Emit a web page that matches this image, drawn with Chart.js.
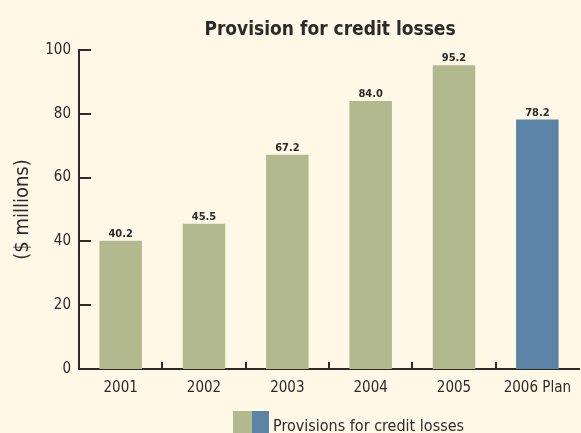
<!DOCTYPE html>
<html>
<head>
<meta charset="utf-8">
<script src="https://cdn.jsdelivr.net/npm/chart.js@4.4.1/dist/chart.umd.min.js"></script>
<style>
  html, body { margin: 0; padding: 0; background: #fff8e6; }
  #wrap { width: 581px; height: 433px; }
</style>
</head>
<body>
<div id="wrap"><canvas id="c" width="581" height="433"></canvas></div>
<script>
// Provision for credit losses, $ millions
const years = ['2001', '2002', '2003', '2004', '2005', '2006 Plan'];
const provisions = [40.2, 45.5, 67.2, 84.0, 95.2, 78.2];
const valueLabels = ['40.2', '45.5', '67.2', '84.0', '95.2', '78.2'];
const yTickValues = [0, 20, 40, 60, 80, 100];
const chartTitle = 'Provision for credit losses';
const legendText = 'Provisions for credit losses';

const ACTUAL = '#b2b98f';
const PLAN = '#5b83a5';
const INK = '#2b2b2b';
const FONT = '"Liberation Sans Narrow", "DejaVu Sans Condensed", "Arial Narrow", sans-serif';

const barColors = years.map((y, i) => (i === years.length - 1 ? PLAN : ACTUAL));

// Title over the plot area, inward tick marks, value labels and the two-colour legend
const decorations = {
  id: 'decorations',
  afterDraw(chart) {
    const ctx = chart.ctx;
    const area = chart.chartArea;
    const x = chart.scales.x;
    const y = chart.scales.y;
    ctx.save();

    // title, centred on the plot area
    ctx.fillStyle = INK;
    ctx.font = 'bold 19px ' + FONT;
    ctx.textAlign = 'center';
    ctx.textBaseline = 'alphabetic';
    ctx.fillText(chartTitle, (area.left + area.right) / 2 + 1, 35);

    ctx.strokeStyle = INK;
    ctx.lineWidth = 2;
    // y ticks pointing into the plot
    yTickValues.forEach(v => {
      const py = Math.round(y.getPixelForValue(v));
      ctx.beginPath();
      ctx.moveTo(x.left - 1, py);
      ctx.lineTo(x.left + 12, py);
      ctx.stroke();
    });
    // x ticks between categories, pointing up
    const base = y.getPixelForValue(0);
    for (let i = 0; i < years.length - 1; i++) {
      const px = Math.round((x.getPixelForValue(i) + x.getPixelForValue(i + 1)) / 2);
      ctx.beginPath();
      ctx.moveTo(px, base);
      ctx.lineTo(px, base - 7);
      ctx.stroke();
    }
    // value labels
    const meta = chart.getDatasetMeta(0);
    ctx.fillStyle = INK;
    ctx.font = 'bold 11px ' + FONT;
    ctx.textAlign = 'center';
    meta.data.forEach((bar, i) => {
      ctx.fillText(valueLabels[i], bar.x, y.getPixelForValue(provisions[i]) - 4);
    });
    // legend
    ctx.fillStyle = ACTUAL;
    ctx.fillRect(233, 411, 19, 22);
    ctx.fillStyle = PLAN;
    ctx.fillRect(252, 411, 17, 22);
    ctx.fillStyle = INK;
    ctx.font = '16px ' + FONT;
    ctx.textAlign = 'left';
    ctx.fillText(legendText, 273, 431);
    ctx.restore();
  }
};

new Chart(document.getElementById('c'), {
  type: 'bar',
  data: {
    labels: years,
    datasets: [{
      label: legendText,
      data: provisions,
      backgroundColor: barColors,
      borderWidth: 0,
      categoryPercentage: 1,
      barPercentage: 0.51
    }]
  },
  options: {
    responsive: false,
    animation: false,
    layout: { padding: { top: 50, right: 0, bottom: 0, left: 0 } },
    plugins: {
      legend: { display: false },
      tooltip: { enabled: false },
      title: { display: false }
    },
    scales: {
      x: {
        grid: { display: false, drawTicks: false },
        border: { display: true, color: INK, width: 2 },
        ticks: { color: INK, font: { family: FONT, size: 15 }, padding: 10, maxRotation: 0 },
        afterFit(scale) { scale.height = 64; }
      },
      y: {
        min: 0,
        max: 100,
        grid: { display: false, drawTicks: false },
        border: { display: true, color: INK, width: 2 },
        ticks: { stepSize: 20, color: INK, font: { family: FONT, size: 15 }, padding: 8 },
        title: {
          display: true,
          text: '($ millions)',
          color: INK,
          font: { family: FONT, size: 20 },
          padding: { top: 11, bottom: 0 }
        },
        afterFit(scale) { scale.width = 79; }
      }
    }
  },
  plugins: [decorations]
});
</script>
</body>
</html>
